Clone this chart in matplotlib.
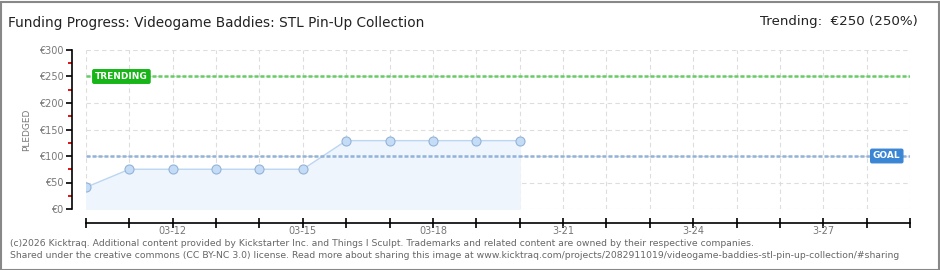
import matplotlib
matplotlib.use("Agg")
import matplotlib.pyplot as plt
import matplotlib.dates as mdates
from matplotlib.patches import Rectangle
import pandas as pd

## data
dates = pd.date_range("2026-03-10", "2026-03-20", freq="D")
pledged = [41, 75, 75, 75, 75, 75, 129, 129, 129, 129, 129]
goal = 100
trending = 250
x_start, x_end = pd.Timestamp("2026-03-10"), pd.Timestamp("2026-03-29")
label_days = ["2026-03-12", "2026-03-15", "2026-03-18", "2026-03-21", "2026-03-24", "2026-03-27"]
label_text = ["03-12", "03-15", "03-18", "3-21", "3-24", "3-27"]
y_ticks = [0, 50, 100, 150, 200, 250, 300]

W, H = 940, 270
fig = plt.figure(figsize=(W/100, H/100), dpi=100)
fig.patches.append(Rectangle((0.5/W, 0.5/H), 1-2/W, 1-2/H, transform=fig.transFigure,
                             fill=False, edgecolor="#888888", linewidth=1.5))

ax = fig.add_axes([86/W, 61/H, (910-86)/W, (209-50)/H])
ax.set_xlim(x_start, x_end)
ax.set_ylim(0, 300)

## grid
ax.xaxis.set_major_locator(mdates.DayLocator())
ax.grid(True, color="#dddddd", linestyle=(0, (4, 3)), linewidth=0.8)
ax.set_axisbelow(True)

## series
ax.fill_between(dates, pledged, 0, color="#eef5fd", zorder=1)
ax.plot(dates, pledged, color="#bcd6f2", linewidth=1, zorder=2)
ax.plot(dates, pledged, "o", markersize=6.5, markerfacecolor="#c4dcf6",
        markeredgecolor="#94b3d8", markeredgewidth=0.8, zorder=3)

## goal / trending lines
ax.axhline(trending, color="#66cc66", linewidth=1.8, dashes=(1.6, 0.8), zorder=2)
ax.axhline(goal, color="#92b2d8", linewidth=1.8, dashes=(1.6, 0.8), zorder=2)
ax.text(pd.Timestamp("2026-03-10 05:00"), trending, "TRENDING", color="white", fontsize=6.5,
        fontweight="bold", va="center", ha="left", zorder=5,
        bbox=dict(boxstyle="round,pad=0.25,rounding_size=0.15", facecolor="#17b517", edgecolor="#17b517"))
ax.text(pd.Timestamp("2026-03-28 03:30"), goal, "GOAL", color="white", fontsize=6.5,
        fontweight="bold", va="center", ha="left", zorder=5,
        bbox=dict(boxstyle="round,pad=0.25,rounding_size=0.15", facecolor="#3b86d4", edgecolor="#3b86d4"))

## axes styling
for s in ["top", "right"]:
    ax.spines[s].set_visible(False)
ax.spines["left"].set_position(("outward", 10))
ax.spines["bottom"].set_position(("outward", 10))
ax.spines["left"].set_bounds(0, 300)
ax.spines["left"].set_linewidth(1.2)
ax.spines["bottom"].set_linewidth(1.2)

ax.set_yticks(y_ticks)
ax.set_yticklabels(["€%d" % v for v in y_ticks], color="#777777", fontsize=7)
ax.set_yticks([25, 75, 125, 175, 225, 275], minor=True)
ax.tick_params(axis="y", which="major", length=4, width=1.2, pad=2)
ax.tick_params(axis="y", which="minor", length=3, width=1.3, color="#dd0000")

ax.tick_params(axis="x", which="major", direction="inout", length=7, width=1.2, labelbottom=False)
for d, t in zip(label_days, label_text):
    ax.text(pd.Timestamp(d), -0.105, t, transform=ax.get_xaxis_transform(),
            ha="center", va="top", fontsize=7, color="#777777")

ax.set_ylabel("PLEDGED", fontsize=6.5, color="#777777", labelpad=6)

## titles and footer
fig.text(8/W, 1-23/H, "Funding Progress: Videogame Baddies: STL Pin-Up Collection",
         fontsize=9.8, color="#222222", va="center", ha="left")
fig.text(918/W, 1-22/H, "Trending:  €250 (250%)", fontsize=9.6, color="#222222",
         va="center", ha="right")
fig.text(10/W, 1-243/H, "(c)2026 Kicktraq. Additional content provided by Kickstarter Inc. and Things I Sculpt. "
         "Trademarks and related content are owned by their respective companies.",
         fontsize=6.65, color="#666666", va="center", ha="left")
fig.text(10/W, 1-256/H, "Shared under the creative commons (CC BY-NC 3.0) license. Read more about sharing this image at "
         "www.kicktraq.com/projects/2082911019/videogame-baddies-stl-pin-up-collection/#sharing",
         fontsize=6.65, color="#666666", va="center", ha="left")

fig.savefig("out.png", dpi=100)
